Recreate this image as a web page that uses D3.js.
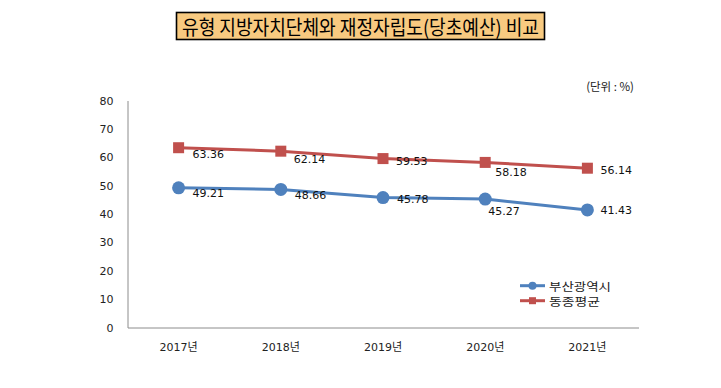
<!DOCTYPE html>
<html><head><meta charset="utf-8">
<script src="https://cdn.jsdelivr.net/npm/d3@7"></script>
<style>body{margin:0;background:#fff}svg{display:block}</style>
</head><body>
<script>
const categories = ["2017년","2018년","2019년","2020년","2021년"];
const busan = [49.21, 48.66, 45.78, 45.27, 41.43];
const peerAvg = [63.36, 62.14, 59.53, 58.18, 56.14];
const seriesNames = ["부산광역시","동종평균"];
const yTicks = [0,10,20,30,40,50,60,70,80];
const titleText = "유형 지방자치단체와 재정자립도(당초예산) 비교";
const unitText = "(단위 : %)";

const W = 721, H = 388;
const svg = d3.select("body").append("svg").attr("width", W).attr("height", H);
svg.append("rect").attr("width", W).attr("height", H).attr("fill", "#fff");

// title box
svg.append("rect").attr("x", 176.5).attr("y", 12.5).attr("width", 368).attr("height", 27)
  .attr("fill", "#F8CA80").attr("stroke", "#000").attr("stroke-width", 1.6);
svg.append("text").attr("x", 182).attr("y", 26).attr("dominant-baseline", "central")
  .attr("font-family", "'Noto Sans CJK KR'").attr("font-size", 20).attr("fill", "#000")
  .attr("textLength", 357).attr("lengthAdjust", "spacingAndGlyphs").text(titleText);

svg.append("text").attr("x", 634).attr("y", 86).attr("text-anchor", "end").attr("dominant-baseline", "central")
  .attr("font-family", "'Noto Sans CJK KR'").attr("font-size", 11.5).attr("fill", "#222").text(unitText);

const x = d3.scaleBand().domain(categories).range([127.5, 638.5]);
const y = d3.scaleLinear().domain([0, 80]).range([327.5, 100.5]);
const cx = d => x(d) + x.bandwidth() / 2;

const font = "'DejaVu Sans', 'Noto Sans CJK KR'";
const yAxis = svg.append("g").attr("transform", "translate(127.5,0)")
  .call(d3.axisLeft(y).tickValues(yTicks).tickSize(0).tickSizeOuter(0).tickPadding(14));
const xAxis = svg.append("g").attr("transform", "translate(0,327.5)")
  .call(d3.axisBottom(x).tickSize(0).tickSizeOuter(0).tickPadding(16));
[yAxis, xAxis].forEach(g => {
  g.select(".domain").attr("stroke", "#8c8c8c").attr("stroke-width", 1);
  g.selectAll("text").attr("font-family", font).attr("font-size", 11).attr("fill", "#222");
});

const series = [
  {name: seriesNames[0], values: busan, color: "#4F81BD", shape: "circle", legendW: 62,
   nudge: [[14,6],[14,6],[14,1.5],[3,12],[13,1]]},
  {name: seriesNames[1], values: peerAvg, color: "#C0504D", shape: "square", legendW: 51,
   nudge: [[14,7],[13,8],[13,2.5],[10,10.5],[13,2]]}
];

const line = d3.line().x((d, i) => cx(categories[i])).y(d => y(d));
series.forEach(s => {
  svg.append("path").datum(s.values).attr("d", line).attr("fill", "none")
    .attr("stroke", s.color).attr("stroke-width", 3);
  const g = svg.append("g");
  s.values.forEach((v, i) => {
    const px = cx(categories[i]), py = y(v);
    if (s.shape === "circle") {
      g.append("circle").attr("cx", px).attr("cy", py).attr("r", 6.5).attr("fill", s.color);
    } else {
      g.append("rect").attr("x", px - 5.5).attr("y", py - 5.5).attr("width", 11).attr("height", 11).attr("fill", s.color);
    }
    g.append("text").attr("x", px + s.nudge[i][0]).attr("y", py + s.nudge[i][1])
      .attr("dominant-baseline", "central").attr("font-family", font).attr("font-size", 11)
      .attr("fill", "#111").text(v.toFixed(2));
  });
});

// legend
const lg = svg.append("g");
series.forEach((s, i) => {
  const ly = 285.7 + i * 15;
  lg.append("line").attr("x1", 520).attr("x2", 545).attr("y1", ly).attr("y2", ly)
    .attr("stroke", s.color).attr("stroke-width", 3);
  if (s.shape === "circle") lg.append("circle").attr("cx", 532.5).attr("cy", ly).attr("r", 4).attr("fill", s.color);
  else lg.append("rect").attr("x", 529).attr("y", ly - 3.5).attr("width", 7).attr("height", 7).attr("fill", s.color);
  lg.append("text").attr("x", 549).attr("y", ly).attr("dominant-baseline", "central")
    .attr("font-family", "'Noto Sans CJK KR'").attr("font-size", 11)
    .attr("textLength", s.legendW).attr("lengthAdjust", "spacingAndGlyphs")
    .attr("fill", "#222").text(s.name);
});
</script>
</body></html>
